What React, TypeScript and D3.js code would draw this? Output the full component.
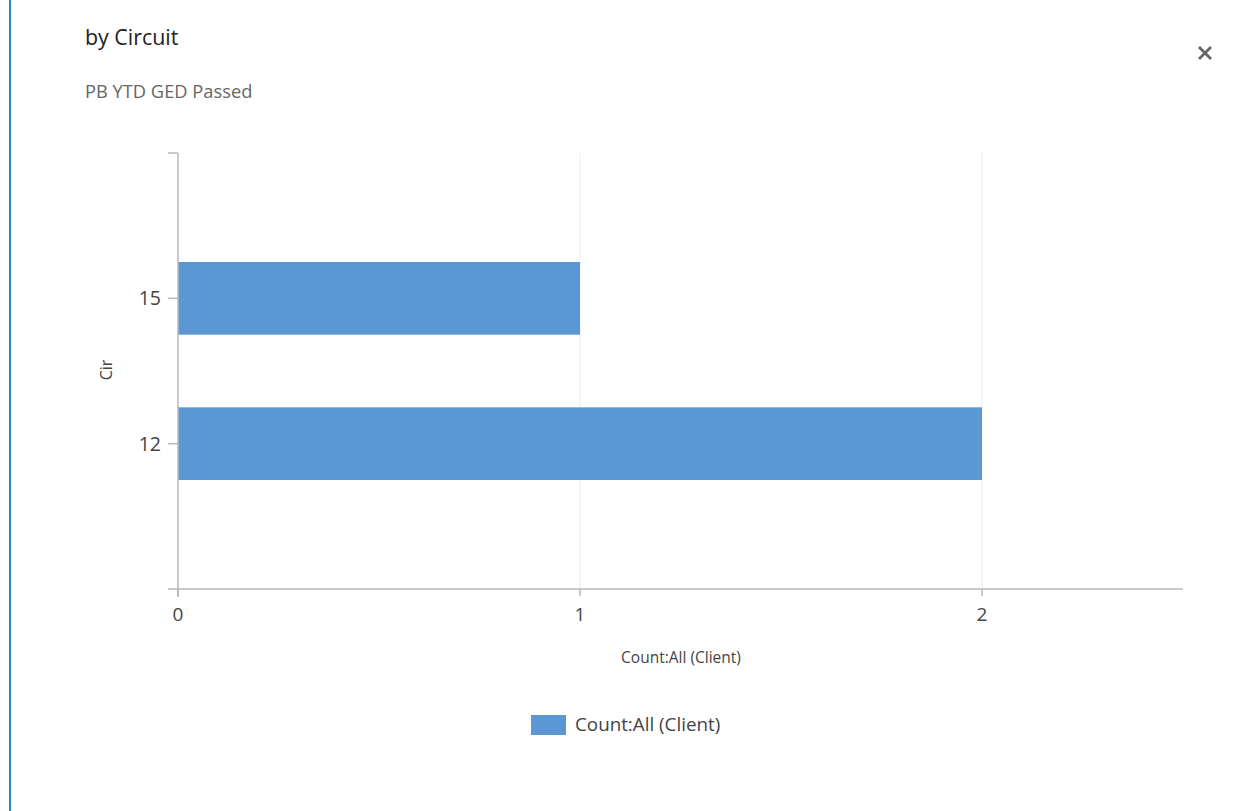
import React from "react";
import * as d3 from "d3";

const categories = ["15", "12"];
const values = [1, 2];
const xTicks = [0, 1, 2];
const seriesName = "Count:All (Client)";
const title = "by Circuit";
const subtitle = "PB YTD GED Passed";
const yTitle = "Cir";

const W = 1243;
const H = 811;
const FONT = "'Open Sans', 'Noto Sans', sans-serif";

export default function App() {
  const left = 178, right = 1183, top = 153, bottom = 589;
  const x = d3.scaleLinear().domain([0, 2.5]).range([left, right]);
  const y = d3.scalePoint<string>().domain(categories).range([top, bottom]).padding(1);
  const step = y.step();
  const barH = step / 2;
  const axisColor = "#b4bac2";
  const gridColor = "#e9ecf0";
  const textColor = "#444";

  return (
    <svg width={W} height={H} style={{ position: "absolute", left: 0, top: 0, background: "#fff" }} fontFamily={FONT}>
      <rect x={9} y={0} width={2} height={H} fill="#2a86c4" />
      <text x={85} y={45} fontSize={21.4} fill="#222">{title}</text>
      <text x={85} y={98} fontSize={18.3} fill="#666">{subtitle}</text>
      {/* close icon */}
      <g stroke="#666" strokeWidth={2.8} strokeLinecap="square">
        <line x1={1200} y1={48} x2={1210} y2={58} />
        <line x1={1210} y1={48} x2={1200} y2={58} />
      </g>
      {/* gridlines */}
      {xTicks.filter((t) => t > 0).map((t) => (
        <line key={"g" + t} x1={x(t)} x2={x(t)} y1={top} y2={bottom} stroke={gridColor} strokeWidth={1} />
      ))}
      {/* bars */}
      {categories.map((c, i) => (
        <rect key={c} x={x(0)} y={(y(c) as number) - barH / 2} width={x(values[i]) - x(0)} height={barH} fill="#5b97d4" />
      ))}
      {/* y axis */}
      <line x1={left} x2={left} y1={top} y2={bottom + 8} stroke={axisColor} strokeWidth={1.5} />
      <line x1={168} x2={left} y1={top} y2={top} stroke={axisColor} strokeWidth={1.5} />
      {categories.map((c) => (
        <g key={"yt" + c}>
          <line x1={168} x2={left} y1={y(c)} y2={y(c)} stroke={axisColor} strokeWidth={1.5} />
          <text x={161} y={(y(c) as number) + 7} fontSize={19.5} textAnchor="end" fill={textColor}>{c}</text>
        </g>
      ))}
      {/* x axis */}
      <line x1={168} x2={right} y1={bottom} y2={bottom} stroke={axisColor} strokeWidth={1.5} />
      {xTicks.map((t) => (
        <g key={"xt" + t}>
          <line x1={x(t)} x2={x(t)} y1={bottom} y2={bottom + 7} stroke={axisColor} strokeWidth={1.5} />
          <text x={x(t)} y={bottom + 32} fontSize={19} textAnchor="middle" fill={textColor}>{t}</text>
        </g>
      ))}
      <text x={681} y={663} fontSize={15.5} textAnchor="middle" fill="#444">{seriesName}</text>
      <text transform={`translate(112,370) rotate(-90)`} fontSize={16} textAnchor="middle" fill="#444">{yTitle}</text>
      {/* legend */}
      <rect x={531} y={715} width={35} height={20} fill="#5b97d4" />
      <text x={575} y={731} fontSize={18.8} fill="#444">{seriesName}</text>
    </svg>
  );
}
